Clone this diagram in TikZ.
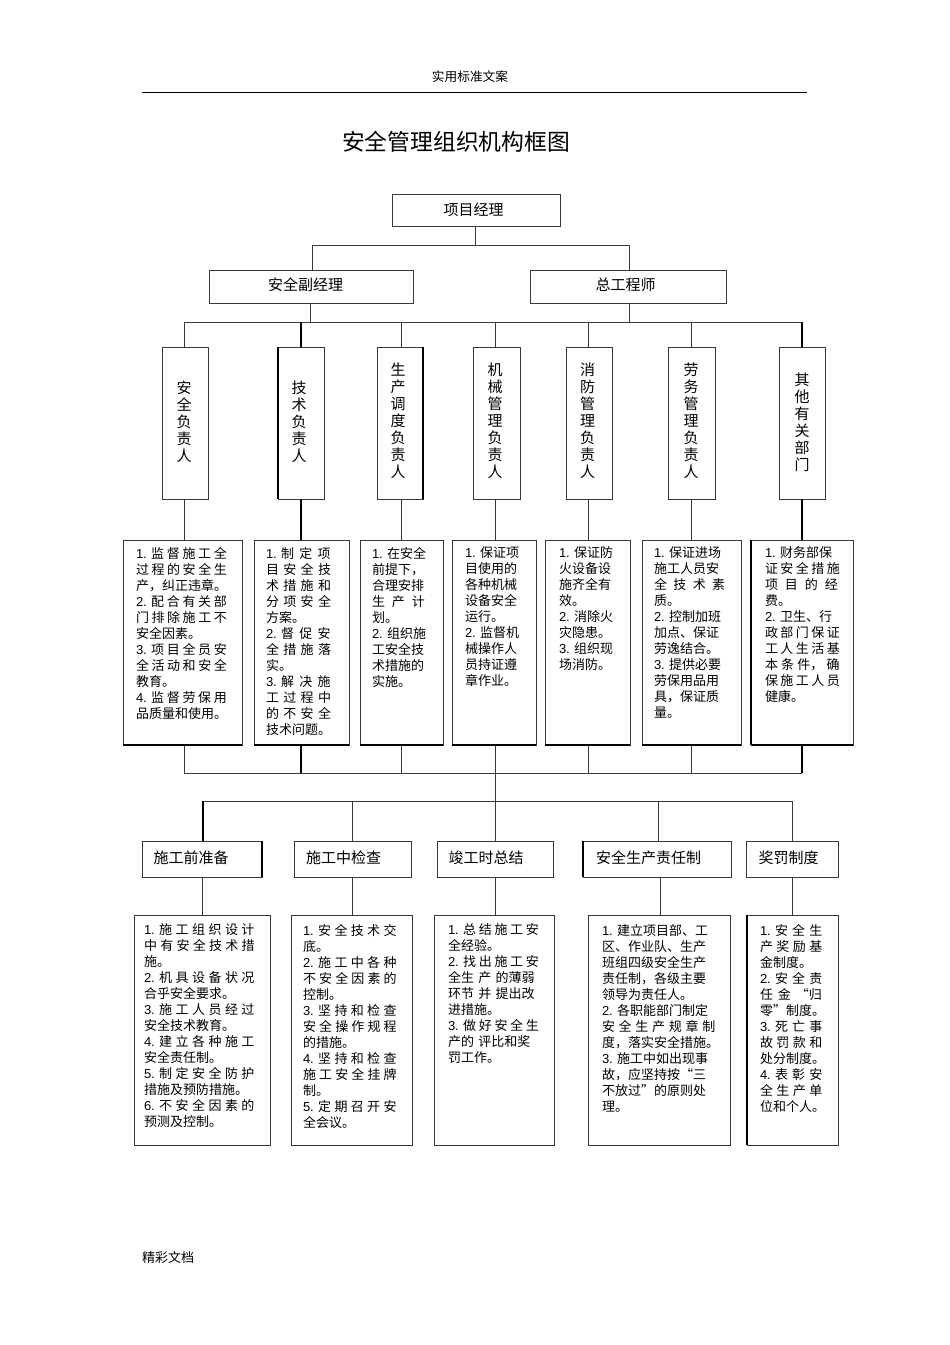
\documentclass[tikz,border=0pt]{standalone}
\usepackage{fontspec}
\setmainfont{Noto Sans CJK SC}
\newfontfamily\latf{Liberation Sans}
\XeTeXlinebreaklocale "zh"
\XeTeXlinebreakskip=0pt plus 6em
\newcommand\itm[1]{{\latf #1.}\ }
\newcommand\jj{\break}
\newcommand\nn{\hfil\break}
\newcommand\mm[1]{\makebox[\hsize][l]{#1}}
\definecolor{ln}{gray}{0.22}
\tikzset{
  boxn/.style={draw=ln,line width=0.9pt,fill=white,inner sep=0pt,outer sep=0pt},
  conn/.style={draw=ln,line width=1pt},
  heavy/.style={draw=black,line width=1.6pt},
  heavyedge/.style={draw=black,line width=1.5pt},
  body/.style={anchor=north west,inner sep=0pt,outer sep=0pt,font=\fontsize{13}{16}\selectfont,
    execute at begin node={\tolerance=10000\hbadness=10000\hfuzz=40pt\baselineskip=16pt}},
  head/.style={inner sep=0pt,font=\fontsize{15}{17}\selectfont},
  vert/.style={inner sep=0pt,align=center,font=\fontsize{15}{17}\selectfont}
}
\newcommand\bx[5]{\node[boxn,minimum width={#4pt-#2pt},minimum height={#5pt-#3pt}] (#1) at ({(#2+#4)/2},{(#3+#5)/2}) {};}
\begin{document}
\begin{tikzpicture}[x=1pt,y=-1pt]
\useasboundingbox (0,0) rectangle (950,1345);
\fill[white] (0,0) rectangle (950,1345);

% page furniture
\node[inner sep=0pt,font=\fontsize{12.7}{15}\selectfont] (hdr) at (470,77) {实用标准文案};
\coordinate (ruleL) at (142,92);
\coordinate (ruleR) at (807,92);
\draw[black,line width=1pt] (ruleL) -- (ruleR);
\node[inner sep=0pt,font=\fontsize{22.8}{26}\selectfont] (ttl) at (456,141.5) {安全管理组织机构框图};
\node[inner sep=0pt,font=\fontsize{13}{15}\selectfont] (ftr) at (168,1257) {精彩文档};

% bus joints
\coordinate (b1L) at (312,245); \coordinate (b1R) at (629,245); \coordinate (b1M) at (475,245);
\coordinate (b2L) at (184,322); \coordinate (b2R) at (802,322);
\coordinate (b2a) at (310,322); \coordinate (b2b) at (629,322);
\coordinate (b3L) at (184,773); \coordinate (b3R) at (802,773); \coordinate (b3M) at (495,773);
\coordinate (b4L) at (203,801); \coordinate (b4R) at (792,801);
\foreach \n/\x in {s1/184,s2/301,s3/401,s4/495,s5/588,s6/691,s7/802}{
  \coordinate (\n) at (\x,322);
  \coordinate (\n b) at (\x,773);
}
\foreach \n/\x in {t1/203,t2/352,t3/495,t4/658,t5/792}{
  \coordinate (\n) at (\x,801);
}

% boxes
\bx{pm}{392}{194}{560}{226}
\bx{dep}{209}{270}{413}{303}
\bx{chf}{530}{270}{726}{303}
\bx{v1}{162}{347}{208}{499}
\bx{v2}{278}{347}{324}{499}
\bx{v3}{377}{347}{423}{499}
\bx{v4}{473}{347}{520}{499}
\bx{v5}{566}{347}{612}{499}
\bx{v6}{668}{347}{715}{499}
\bx{v7}{779}{347}{825}{499}
\bx{d1}{123}{540}{242}{745}
\bx{d2}{254}{540}{349}{745}
\bx{d3}{360}{540}{443}{745}
\bx{d4}{452}{540}{536}{745}
\bx{d5}{545}{540}{630}{745}
\bx{d6}{642}{540}{741}{745}
\bx{d7}{751}{540}{853}{745}
\bx{h1}{142}{841}{262}{877}
\bx{h2}{294}{841}{411}{877}
\bx{h3}{437}{841}{553}{877}
\bx{h4}{583}{841}{731}{877}
\bx{h5}{746}{841}{838}{877}
\bx{e1}{134}{915}{270}{1145}
\bx{e2}{291}{915}{412}{1145}
\bx{e3}{434}{915}{554}{1145}
\bx{e4}{588}{915}{730}{1145}
\bx{e5}{747}{915}{838}{1145}

% connectors
\draw[conn] (pm.south -| b1M) -- (b1M);
\draw[conn] (dep.north -| b1L) -- (b1L) -- (b1R) -- (chf.north -| b1R);
\draw[conn] (dep.south -| b2a) -- (b2a);
\draw[conn] (chf.south -| b2b) -- (b2b);
\draw[conn] (v1.north -| b2L) -- (b2L) -- (b2R);
\draw[heavy] (b2R) -- (v7.north -| b2R);
\draw[heavy] (s2) -- (v2.north -| s2);
\draw[conn] (s3) -- (v3.north -| s3);
\draw[conn] (s4) -- (v4.north -| s4);
\draw[conn] (s5) -- (v5.north -| s5);
\draw[conn] (s6) -- (v6.north -| s6);
\draw[conn] (v1.south -| s1) -- (d1.north -| s1);
\draw[heavy] (v2.south -| s2) -- (d2.north -| s2);
\draw[conn] (v3.south -| s3) -- (d3.north -| s3);
\draw[conn] (v4.south -| s4) -- (d4.north -| s4);
\draw[conn] (v5.south -| s5) -- (d5.north -| s5);
\draw[conn] (v6.south -| s6) -- (d6.north -| s6);
\draw[heavy] (v7.south -| s7) -- (d7.north -| s7);
\draw[conn] (d1.south -| s1) -- (s1b) -- (s7b);
\draw[heavy] (d2.south -| s2) -- (s2b);
\draw[conn] (d3.south -| s3) -- (s3b);
\draw[conn] (d5.south -| s5) -- (s5b);
\draw[conn] (d6.south -| s6) -- (s6b);
\draw[heavy] (d7.south -| s7) -- (s7b);
\draw[conn] (d4.south -| s4) -- (h3.north -| s4);
\draw[conn] (h1.north -| t1) -- (t1) -- (t5) -- (h5.north -| t5);
\draw[heavy] (h1.north -| t1) -- (t1);
\draw[conn] (t2) -- (h2.north -| t2);
\draw[conn] (t4) -- (h4.north -| t4);
\coordinate (u1) at (202,900); \coordinate (u4) at (660,900);
\draw[conn] (h1.south -| u1) -- (e1.north -| u1);
\draw[conn] (h2.south -| t2) -- (e2.north -| t2);
\draw[conn] (h3.south -| t3) -- (e3.north -| t3);
\draw[conn] (h4.south -| u4) -- (e4.north -| u4);
\draw[conn] (h5.south -| t5) -- (e5.north -| t5);

% heavier edges
\foreach \n in {d1,d2,d3,d4,d5,d6,d7}{
  \draw[heavyedge] (\n.south west) -- (\n.south east);
}
\draw[heavyedge] (d7.north west) -- (d7.south west);
\draw[heavyedge] (h1.north east) -- (h1.south east);
\draw[heavyedge] (h4.north west) -- (h4.south west);
\draw[heavyedge] (e5.north west) -- (e5.south west);
\draw[heavyedge] (v2.north west) -- (v2.south west);
\draw[heavyedge] (v3.north east) -- (v3.south east);

% labels
\node[head] (pmt) at (473.5,209.5) {项目经理};
\node[head] (dept) at (305.5,284.5) {安全副经理};
\node[head] (chft) at (625.5,284.5) {总工程师};
\node[vert] (v1t) at (184,422) {安\\全\\负\\责\\人};
\node[vert] (v2t) at (299,422) {技\\术\\负\\责\\人};
\node[vert] (v3t) at (398,421) {生\\产\\调\\度\\负\\责\\人};
\node[vert] (v4t) at (495,421) {机\\械\\管\\理\\负\\责\\人};
\node[vert] (v5t) at (587.5,421) {消\\防\\管\\理\\负\\责\\人};
\node[vert] (v6t) at (691,421) {劳\\务\\管\\理\\负\\责\\人};
\node[vert] (v7t) at (802,422) {其\\他\\有\\关\\部\\门};
\node[head] (h1t) at (191,858) {施工前准备};
\node[head] (h2t) at (343.5,858) {施工中检查};
\node[head] (h3t) at (486,858) {竣工时总结};
\node[head] (h4t) at (648.5,858) {安全生产责任制};
\node[head] (h5t) at (788.5,858) {奖罚制度};

% upper detail texts
\node[body,text width=92pt] (d1t) at (136,547) {\itm{1}监督施工全\jj 过程的安全生\jj 产，纠正违章。\nn \itm{2}配合有关部\jj 门排除施工不\jj 安全因素。\nn \itm{3}项目全员安\jj 全活动和安全\jj 教育。\nn \itm{4}监督劳保用\jj 品质量和使用。};
\node[body,text width=67pt] (d2t) at (266,547) {\itm{1}制定项\jj 目安全技\jj 术措施和\jj 分项安全\jj 方案。\nn \itm{2}督促安\jj 全措施落\jj 实。\nn \itm{3}解决施\jj 工过程中\jj 的不安全\jj 技术问题。};
\node[body,text width=56pt] (d3t) at (372,547) {\itm{1}在安全\nn 前提下，\nn 合理安排\nn 生产计\jj 划。\nn \itm{2}组织施\nn 工安全技\nn 术措施的\nn 实施。};
\node[body,text width=62pt] (d4t) at (465,547) {\itm{1}保证项\nn 目使用的\nn 各种机械\nn 设备安全\nn 运行。\nn \itm{2}监督机\nn 械操作人\nn 员持证遵\nn 章作业。};
\node[body,text width=62pt] (d5t) at (559,547) {\itm{1}保证防\nn 火设备设\nn 施齐全有\nn 效。\nn \itm{2}消除火\nn 灾隐患。\nn \itm{3}组织现\nn 场消防。};
\node[body,text width=74pt] (d6t) at (654,547) {\itm{1}保证进场\nn 施工人员安\nn 全技术素\jj 质。\nn \itm{2}控制加班\nn 加点、保证\nn 劳逸结合。\nn \itm{3}提供必要\nn 劳保用品用\nn 具，保证质\nn 量。};
\node[body,text width=76pt] (d7t) at (765,547) {\itm{1}财务部保\nn 证安全措施\jj 项目的经\jj 费。\nn \itm{2}卫生、行\nn 政部门保证\jj 工人生活基\jj 本条件，确\jj 保施工人员\jj 健康。};

% lower detail texts
\node[body,text width=112pt] (e1t) at (144,924) {\itm{1}施工组织设计\jj 中有安全技术措\jj 施。\nn \itm{2}机具设备状况\jj 合乎安全要求。\nn \itm{3}施工人员经过\jj 安全技术教育。\nn \itm{4}建立各种施工\jj 安全责任制。\nn \itm{5}制定安全防护\jj 措施及预防措施。\nn \itm{6}不安全因素的\jj 预测及控制。};
\node[body,text width=95pt] (e2t) at (303,924) {\itm{1}安全技术交\jj 底。\nn \itm{2}施工中各种\jj 不安全因素的\jj 控制。\nn \itm{3}坚持和检查\jj 安全操作规程\jj 的措施。\nn \itm{4}坚持和检查\jj 施工安全挂牌\jj 制。\nn \itm{5}定期召开安\jj 全会议。};
\node[body,text width=92pt] (e3t) at (448,924) {\itm{1}总结施工安\jj 全经验。\nn \itm{2}找出施工安\jj 全生 产 的薄弱\nn 环节 并 提出改\nn 进措施。\nn \itm{3}做好安全生\jj 产的 评比和奖\nn 罚工作。};
\node[body,text width=115pt] (e4t) at (602,924) {\itm{1}建立项目部、工\nn 区、作业队、生产\nn 班组四级安全生产\nn 责任制，各级主要\nn 领导为责任人。\nn \itm{2}各职能部门制定\nn 安全生产规章制\jj \mm{度，落实安全措施。}\jj \itm{3}施工中如出现事\nn 故，应坚持按“三\nn 不放过”的原则处\nn 理。};
\node[body,text width=64pt] (e5t) at (760,924) {\itm{1}安全生\jj 产奖励基\jj 金制度。\nn \itm{2}安全责\jj 任金“归\jj \mm{零”制度。}\jj \itm{3}死亡事\jj 故罚款和\jj \mm{处分制度。}\jj \itm{4}表彰安\jj 全生产单\jj \mm{位和个人。}};
\end{tikzpicture}
\end{document}
